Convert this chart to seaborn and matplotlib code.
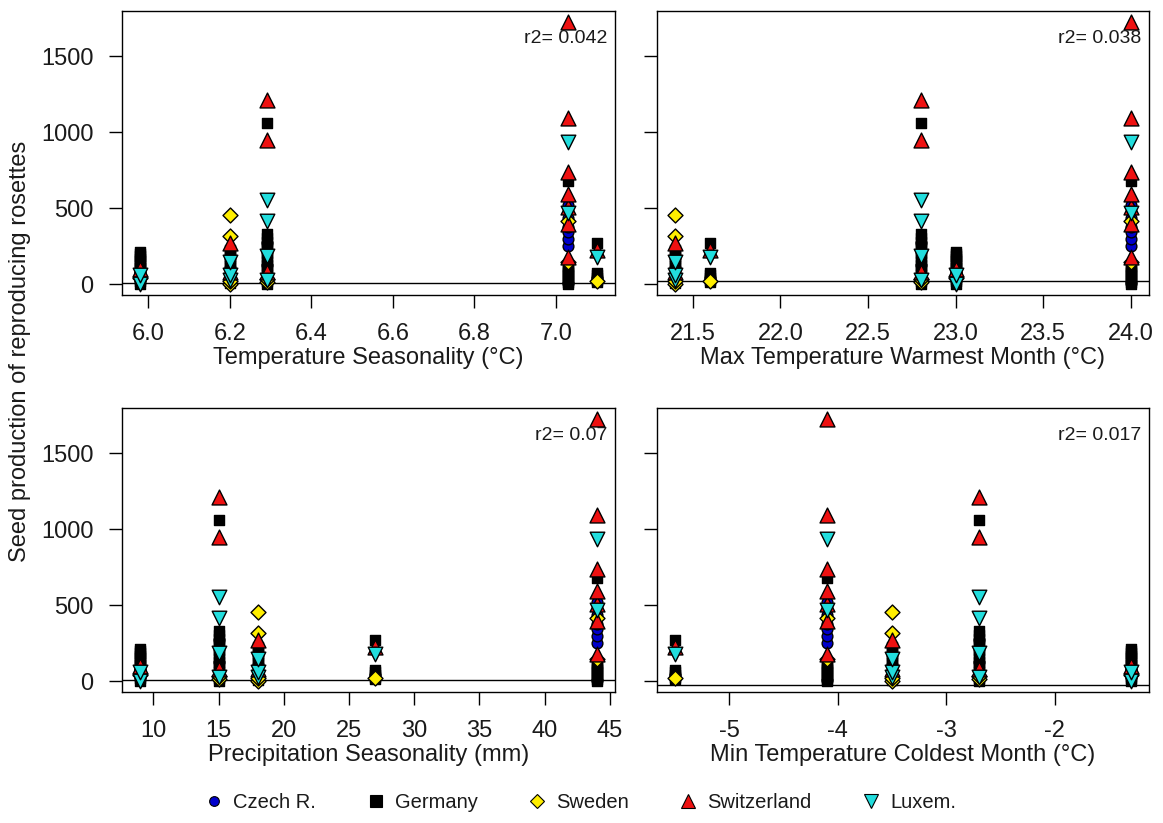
import numpy as np
import pandas as pd
import matplotlib
matplotlib.use("Agg")
import matplotlib.pyplot as plt
from matplotlib.lines import Line2D
import seaborn as sns

# ---------------- data ----------------
# climate of the five sites (same site order in every list below)
temp_seasonality = [5.98, 6.20, 6.29, 7.03, 7.10]
max_temp_warmest = [23.0, 21.4, 22.8, 24.0, 21.6]
precip_seasonality = [9, 18, 15, 44, 27]
min_temp_coldest = [-1.3, -3.5, -2.7, -4.1, -5.5]

countries = ["Czech R.", "Germany", "Sweden", "Switzerland", "Luxem."]

# seed production per site, one list per country
czech = [[30, 60, 85],
         [20, 110],
         [130, 275],
         [13, 250, 296, 342, 380, 440, 526],
         [40]]
germany = [[5, 20, 35, 50, 65, 80, 95, 110, 125, 140, 155, 170, 185, 200, 215],
           [10, 30, 50, 70, 95, 120, 140, 165, 185, 205, 225],
           [5, 25, 45, 65, 85, 105, 130, 155, 180, 205, 230, 255, 280, 305, 330, 1060],
           [0, 15, 30, 45, 60, 75, 90, 105, 118, 678],
           [15, 30, 45, 60, 75, 276]]
sweden = [[40],
          [0, 20, 320, 455],
          [15, 35],
          [150, 420],
          [20]]
switzerland = [[100],
               [85, 270],
               [85, 950, 1215],
               [184, 400, 510, 592, 737, 1098, 1730],
               [230]]
luxem = [[0, 60],
         [30, 60, 150],
         [30, 185, 415, 555],
         [473, 940],
         [178]]

predictors = ["Temperature Seasonality (°C)", "Max Temperature Warmest Month (°C)",
              "Precipitation Seasonality (mm)", "Min Temperature Coldest Month (°C)"]
r2_labels = ["0.042", "0.038", "0.07", "0.017"]
line_levels = [10, 20, 12, -25]

x_ticks = [[6.0, 6.2, 6.4, 6.6, 6.8, 7.0],
           [21.5, 22.0, 22.5, 23.0, 23.5, 24.0],
           [10, 15, 20, 25, 30, 35, 40, 45],
           [-5, -4, -3, -2]]
x_ticklabels = [["6.0", "6.2", "6.4", "6.6", "6.8", "7.0"],
                ["21.5", "22.0", "22.5", "23.0", "23.5", "24.0"],
                ["10", "15", "20", "25", "30", "35", "40", "45"],
                ["-5", "-4", "-3", "-2"]]
y_ticks = [0, 500, 1000, 1500]

# ---------------- build long table ----------------
series = {"Czech R.": czech, "Germany": germany, "Sweden": sweden,
          "Switzerland": switzerland, "Luxem.": luxem}
climate = [temp_seasonality, max_temp_warmest, precip_seasonality, min_temp_coldest]
rows = []
for c in countries:
    for si, vals in enumerate(series[c]):
        for v in vals:
            row = {"country": c, "seed": v}
            for k, p in enumerate(predictors):
                row[p] = climate[k][si]
            rows.append(row)
df = pd.DataFrame(rows)

# ---------------- style ----------------
sns.set_style("ticks")
plt.rcParams["font.family"] = ["Liberation Sans", "DejaVu Sans"]
plt.rcParams["axes.unicode_minus"] = False
text_col = "#1a1a1a"

markers = {"Czech R.": "o", "Germany": "s", "Sweden": "D", "Switzerland": "^", "Luxem.": "v"}
colors = {"Czech R.": "#0000cc", "Germany": "#000000", "Sweden": "#ffee00",
          "Switzerland": "#ee1111", "Luxem.": "#22dddd"}
sizes = {"Czech R.": 60, "Germany": 55, "Sweden": 58, "Switzerland": 115, "Luxem.": 110}

fig = plt.figure(figsize=(11.63, 8.23), dpi=100)
W, H = 1163, 823
boxes = [(122, 11, 615, 295), (657, 11, 1149, 295),
         (122, 408, 615, 692), (657, 408, 1149, 692)]
axes = []
for (x0, y0, x1, y1) in boxes:
    axes.append(fig.add_axes([x0 / W, 1 - y1 / H, (x1 - x0) / W, (y1 - y0) / H]))

for i, ax in enumerate(axes):
    p = predictors[i]
    for c in countries:
        sub = df[df["country"] == c]
        sns.scatterplot(data=sub, x=p, y="seed", ax=ax, marker=markers[c],
                        color=colors[c], s=sizes[c], edgecolor="black",
                        linewidth=1.0, legend=False, zorder=3)
    ax.axhline(line_levels[i], color="black", linewidth=1.0, zorder=2)
    xv = np.array(climate[i], dtype=float)
    pad = (xv.max() - xv.min()) * 0.04
    ax.set_xlim(xv.min() - pad, xv.max() + pad)
    ymax = df["seed"].max()
    ypad = ymax * 0.04
    ax.set_ylim(-ypad, ymax + ypad)
    ax.set_xticks(x_ticks[i])
    ax.set_xticklabels(x_ticklabels[i])
    ax.set_yticks(y_ticks)
    if i in (0, 2):
        ax.set_yticklabels([str(t) for t in y_ticks])
    else:
        ax.set_yticklabels([])
    ax.set_xlabel(p, fontsize=17, color=text_col, labelpad=1)
    ax.set_ylabel("")
    ax.tick_params(axis="both", direction="out", length=9.5, width=1.0,
                   labelsize=17, colors="black", labelcolor=text_col)
    ax.tick_params(axis="x", pad=11)
    ax.tick_params(axis="y", pad=11)
    for sp in ax.spines.values():
        sp.set_visible(True)
        sp.set_color("black")
        sp.set_linewidth(1.0)
    ax.text(0.984, 0.887, "r2= " + r2_labels[i], transform=ax.transAxes,
            ha="right", va="baseline", fontsize=14, color=text_col, zorder=5)

fig.text(20 / W, 1 - 351.5 / H, "Seed production of reproducing rosettes",
         rotation=90, ha="center", va="center", fontsize=17, color=text_col)

leg_sizes = {"Czech R.": 7, "Germany": 8, "Sweden": 7, "Switzerland": 10, "Luxem.": 10}
handles = [Line2D([], [], linestyle="none", marker=markers[c], markerfacecolor=colors[c],
                  markeredgecolor="black", markeredgewidth=0.8, markersize=leg_sizes[c])
           for c in countries]
fig.legend(handles, countries, loc="center", bbox_to_anchor=(0.499, 1 - 803 / H),
           ncol=5, frameon=False, fontsize=14.5, handlelength=1.0,
           handletextpad=0.45, columnspacing=2.45, labelcolor=text_col)

fig.savefig("out.png", dpi=100)
